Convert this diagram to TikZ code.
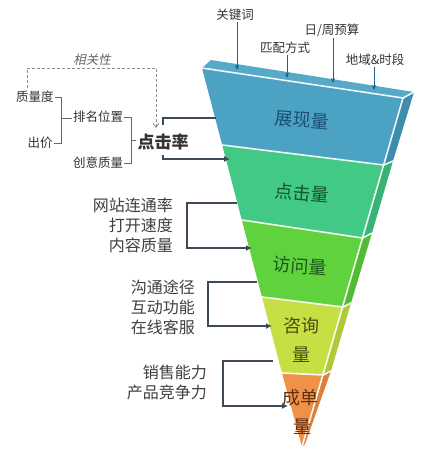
\documentclass[tikz,border=0pt]{standalone}
\usepackage{fontspec}
\setmainfont{Noto Sans CJK SC}
\newfontfamily\slantcjk{Noto Sans CJK SC}[FakeSlant=0.2]
\usetikzlibrary{arrows.meta}
\definecolor{slate}{HTML}{3B4A56}
\definecolor{bluef}{HTML}{4BA2C3}
\definecolor{blues}{HTML}{3E8DAE}
\definecolor{bluet}{HTML}{56A9C7}
\definecolor{grnf}{HTML}{42C985}
\definecolor{grns}{HTML}{38B275}
\definecolor{lgrf}{HTML}{60D23E}
\definecolor{lgrs}{HTML}{52BA34}
\definecolor{ylwf}{HTML}{C6E043}
\definecolor{ylws}{HTML}{B0C93A}
\definecolor{orgf}{HTML}{F0914A}
\definecolor{orgs}{HTML}{DC7F3C}
\definecolor{arrblue}{HTML}{1F5D8C}
\definecolor{tblue}{HTML}{1B4F72}
\definecolor{tgrn}{HTML}{14532D}
\definecolor{tlgr}{HTML}{1E5620}
\definecolor{tylw}{HTML}{4D4A12}
\definecolor{torg}{HTML}{5C2E0E}
\begin{document}
\begin{tikzpicture}[x=1pt,y=-1pt,
  lbl/.style={font=\fontsize{12.5}{14}\selectfont, text=black!80, inner sep=1pt},
  grp/.style={font=\fontsize{16}{20}\selectfont, text=black!75, align=right, inner sep=0pt},
  stage/.style={font=\fontsize{18}{21}\selectfont, inner sep=0pt},
  brk/.style={draw=slate, line width=1.8pt},
  arr/.style={-{Latex[length=6pt,width=6pt]}},
  thinb/.style={draw=black!60, line width=0.7pt},
  sepl/.style={draw=white, line width=1.6pt, opacity=0.9},
  toparr/.style={draw=arrblue, line width=0.8pt, -{Stealth[length=5pt,width=4pt]}}
]
\useasboundingbox[fill=white] (0,0) rectangle (433,452);

% ---- funnel: front faces
\fill[bluef] (202,68) -- (403,98) -- (383.8,165) -- (222.2,145) -- cycle;
\fill[grnf] (222.2,145) -- (383.8,165) -- (362.8,238) -- (241.8,220) -- cycle;
\fill[lgrf] (241.8,220) -- (362.8,238) -- (343,307) -- (262,297) -- cycle;
\fill[ylwf] (262,297) -- (343,307) -- (323.5,375) -- (282,373) -- cycle;
\fill[orgf] (282,373) -- (323.5,375) -- (302,447) -- cycle;
% side faces
\fill[blues] (403,98) -- (414,92) -- (393,161) -- (383.8,165) -- cycle;
\fill[grns] (383.8,165) -- (393,161) -- (372,233) -- (362.8,238) -- cycle;
\fill[lgrs] (362.8,238) -- (372,233) -- (351,303) -- (343,307) -- cycle;
\fill[ylws] (343,307) -- (351,303) -- (331,371) -- (323.5,375) -- cycle;
\fill[orgs] (323.5,375) -- (331,371) -- (305,444) -- (302,447) -- cycle;
% top face
\fill[bluet] (202,68) -- (211,60) -- (414,92) -- (403,98) -- cycle;
% light separators
\draw[sepl] (202,68) -- (403,98) -- (414,92);
\draw[sepl] (403,98) -- (302,447);
\draw[sepl] (222.2,145) -- (383.8,165) -- (393,161);
\draw[sepl] (241.8,220) -- (362.8,238) -- (372,233);
\draw[sepl] (262,297) -- (343,307) -- (351,303);
\draw[sepl] (282,373) -- (323.5,375) -- (331,371);

% ---- stage labels
\node[stage, rotate=-5, text=tblue] (s1) at (302,120) {展现量};
\node[stage, rotate=-5, text=tgrn] (s2) at (302,193) {点击量};
\node[stage, rotate=-4, text=tlgr] (s3) at (300,266) {访问量};
\node[stage, text=tylw] (s4a) at (301,326) {咨询};
\node[stage, text=tylw] (s4b) at (301,355) {量};
\node[stage, text=torg] (s5a) at (300,398) {成单};
\node[stage, text=torg] (s5b) at (302,427) {量};

% ---- top labels and arrows
\node[lbl] (k1) at (235,15) {关键词};
\node[lbl] (k2) at (285,48) {匹配方式};
\node[lbl] (k3) at (332,30) {日/周预算};
\node[lbl] (k4) at (375,60) {地域\&时段};
\coordinate (k1e) at (237,70);
\coordinate (k2e) at (287,78);
\coordinate (k3e) at (333,83);
\coordinate (k4e) at (374,90);
\draw[toparr] (k1.south -| k1e) -- (k1e);
\draw[toparr] (k2.south -| k2e) -- (k2e);
\draw[toparr] (k3.south -| k3e) -- (k3e);
\draw[toparr] (k4.south -| k4e) -- (k4e);

% ---- left top cluster
\node[lbl, font=\slantcjk\fontsize{12.5}{14}\selectfont, text=black!60] (rel) at (92,60) {相关性};
\node[lbl] (zld) at (35,97) {质量度};
\node[lbl] (cj) at (40,143) {出价};
\node[lbl] (pm) at (98,117) {排名位置};
\node[lbl] (cy) at (98,163) {创意质量};
\node[font=\bfseries\fontsize{17}{20}\selectfont, text=black!80, inner sep=1pt] (djl) at (163,142) {点击率};

\coordinate (b1) at (61,97);
\coordinate (b1m) at (61,118);
\draw[thinb] (zld.east) -- (b1) -- (b1 |- cj.east) -- (cj.east);
\draw[thinb] (b1m) -- (pm.west |- b1m);
\coordinate (b2) at (131,117);
\coordinate (b2m) at (131,140);
\draw[thinb] (pm.east) -- (b2) -- (b2 |- cy.east) -- (cy.east);
\draw[thinb] (b2m) -- (djl.west |- b2m);

\coordinate (d1) at (27,88);
\coordinate (d2) at (156,128);
\draw[draw=black!45, line width=0.8pt, dash pattern=on 3pt off 2pt, -{Straight Barb[length=4pt,width=6pt]}]
  (d1) -- (27,68) -- (156,68) -- (d2);

% 点击率 bracket
\coordinate (t1) at (163,125);
\coordinate (t2) at (216,118);
\coordinate (u1) at (163,155);
\coordinate (u2) at (230,159);
\draw[brk] (t1) |- (t2);
\draw[brk, arr] (u1) |- (u2);

% ---- group 2
\node[grp, anchor=east] (g2) at (173,225) {网站连通率\\打开速度\\内容质量};
\coordinate (g2a) at (237,203);
\coordinate (g2v) at (187,203);
\coordinate (g2b) at (252,248);
\draw[brk, arr] (g2a) -- (g2v) |- (g2b);

% ---- group 3
\node[grp, anchor=east] (g3) at (195,307) {沟通途径\\互动功能\\在线客服};
\coordinate (g3a) at (257,282);
\coordinate (g3v) at (208,282);
\coordinate (g3b) at (272,326);
\draw[brk, arr] (g3a) -- (g3v) |- (g3b);

% ---- group 4
\node[grp, anchor=east] (g4) at (207,382.5) {销售能力\\产品竞争力};
\coordinate (g4a) at (273,361);
\coordinate (g4v) at (223,361);
\coordinate (g4b) at (288,406);
\draw[brk, arr] (g4a) -- (g4v) |- (g4b);
\end{tikzpicture}
\end{document}
